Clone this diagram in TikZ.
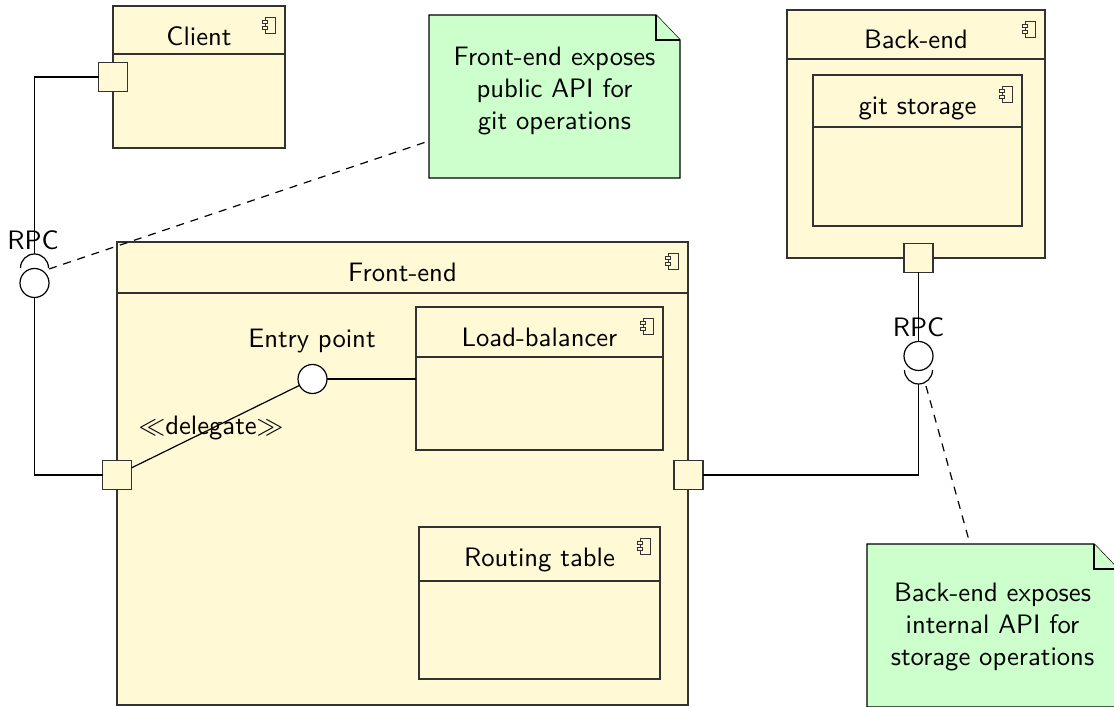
\documentclass[tikz,border=0pt]{standalone}
\usetikzlibrary{calc}

\definecolor{compfill}{RGB}{255,249,214}
\definecolor{notefill}{RGB}{204,255,204}
\definecolor{edge}{RGB}{50,50,50}

% one drawing unit, in pt
\newcommand\unitpt{0.375}

% UML component: name, x1, y1, x2, y2, header line y, title baseline y, title
\newcommand\umlcomp[8]{%
  \node[compbox, minimum width={(#4-#2)*\unitpt pt}, minimum height={(#5-#3)*\unitpt pt}]
    (#1) at ({(#2+#4)/2},{(#3+#5)/2}) {};
  \draw[headline] (#2,#6) -- (#4,#6);
  \node[ctitle] (#1-title) at ({(#2+#4)/2},#7) {#8};
  \pic at (#4-20,#3+11) {compicon};
}

% UML note with a folded corner, drawn round an empty node
\newcommand\umlnote[1]{%
  \filldraw[notestyle] (#1.north west) -- ($(#1.north east)+(-24,0)$)
    -- ($(#1.north east)+(0,25)$) -- (#1.south east) -- (#1.south west) -- cycle;
  \draw[notestyle] ($(#1.north east)+(-24,0)$) |- ($(#1.north east)+(0,25)$);
}

\begin{document}
\begin{tikzpicture}[
  x=\unitpt pt, y=-\unitpt pt,
  compbox/.style={draw=edge, fill=compfill, inner sep=0pt, outer sep=0pt, line width=0.5pt},
  headline/.style={draw=edge, line width=0.5pt},
  ctitle/.style={anchor=base, inner sep=0pt, font=\sffamily},
  compicon/.pic={
    \draw[edge, fill=compfill, line width=0.35pt] (0,0) rectangle (10,16);
    \draw[edge, fill=compfill, line width=0.35pt] (-3,3) rectangle (2,6);
    \draw[edge, fill=compfill, line width=0.35pt] (-3,9) rectangle (2,12);
  },
  port/.style={draw=edge, fill=compfill, line width=0.5pt, minimum size={29*\unitpt pt},
    inner sep=0pt, outer sep=0pt},
  ball/.style={circle, draw=black, fill=white, line width=0.45pt, minimum size={29*\unitpt pt},
    inner sep=0pt, outer sep=0pt},
  conn/.style={draw=black, line width=0.45pt},
  dashline/.style={draw=black, line width=0.45pt, dash pattern=on 3pt off 2.6pt},
  lbl/.style={anchor=base, inner sep=0pt, font=\sffamily},
  notebody/.style={inner sep=0pt, outer sep=0pt},
  notestyle/.style={draw=black, fill=notefill, line width=0.5pt, line join=miter},
  notetext/.style={align=center, inner sep=0pt, font=\sffamily},
]
\clip (0,0) rectangle (1114,707);
\fill[white] (0,0) rectangle (1114,707);

% components
\umlcomp{fe}{117}{242}{688}{705}{293}{282}{Front-end}
\umlcomp{lb}{416}{307}{663}{450}{357}{347}{Load-balancer}
\umlcomp{rt}{419}{527}{660}{679}{581}{567}{Routing table}
\umlcomp{client}{113}{6}{285}{148}{54}{46}{Client}
\umlcomp{be}{787}{10}{1045}{258}{59}{49}{Back-end}
\umlcomp{gs}{813}{75}{1022}{226}{127}{115}{git storage}

% notes
\node[notebody, minimum width={251*\unitpt pt}, minimum height={163*\unitpt pt}] (note1) at (554.5,96.5) {};
\umlnote{note1}
\node[notetext] (note1-text) at (554.5,91) {Front-end exposes\\public API for\\git operations};
\node[notebody, minimum width={251*\unitpt pt}, minimum height={163*\unitpt pt}] (note2) at (992.5,625.5) {};
\umlnote{note2}
\node[notetext] (note2-text) at (992.5,627) {Back-end exposes\\internal API for\\storage operations};

% provided interfaces (balls)
\node[ball] (lball) at (34.5,283) {};
\node[ball] (rball) at (918.5,356) {};
\node[ball] (entry) at (312.5,379) {};

% required interfaces (sockets)
\coordinate (lsockc) at (34.5,268);
\coordinate (lsock) at (34.5,254);
\coordinate (rsockc) at (918.5,370);
\coordinate (rsock) at (918.5,384);
\draw[conn] ([xshift={-14*\unitpt pt}]lsockc) arc[start angle=180, end angle=0, radius={14*\unitpt pt}];
\draw[conn] ([xshift={-14*\unitpt pt}]rsockc) arc[start angle=180, end angle=360, radius={14*\unitpt pt}];

% ports
\node[port] (cport) at (113,77) {};
\node[port] (feL) at (117,475) {};
\node[port] (feR) at (688.5,475) {};
\node[port] (beP) at (918.5,258) {};

% connectors
\draw[conn] (cport.west) -| (lsock);
\draw[conn] (lball.south) |- (feL.west);
\draw[conn] (feL) -- (entry);
\draw[conn] (entry.east) -- (entry.east -| lb.west);
\draw[conn] (beP.south) -- (rball.north);
\draw[conn] (rsock) |- (feR.east);

% note anchors
\coordinate (lanchor) at (49,269);
\coordinate (ranchor) at (926,386);
\draw[dashline] (lanchor) -- ($(note1.south west)+(0,-37)$);
\draw[dashline] (ranchor) -- ($(note2.north west)+(103,0)$);

% labels
\node[lbl] (rpcL) at (33,250) {RPC};
\node[lbl] (rpcR) at (918.5,337) {RPC};
\node[lbl] (entryL) at (312,348) {Entry point};
\node[lbl] (deleg) at (211,435) {$\ll$delegate$\gg$};
\end{tikzpicture}
\end{document}
